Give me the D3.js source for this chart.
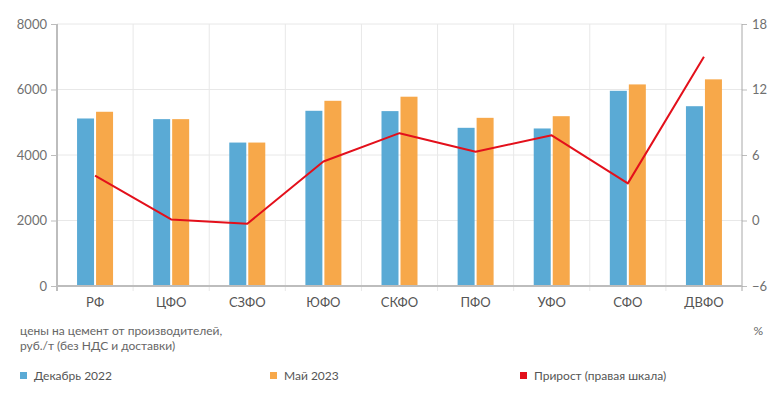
<!DOCTYPE html>
<html>
<head>
<meta charset="utf-8">
<script src="https://cdn.jsdelivr.net/npm/d3@7"></script>
<style>
  body { margin: 0; background: #fff; }
  text { font-family: Lato, "Open Sans", sans-serif; }
</style>
</head>
<body>
<div id="chart"></div>
<script>
const categories = ['РФ', 'ЦФО', 'СЗФО', 'ЮФО', 'СКФО', 'ПФО', 'УФО', 'СФО', 'ДВФО'];
const dec2022 = [5115, 5095, 4380, 5350, 5340, 4830, 4810, 5960, 5490];
const may2023 = [5320, 5095, 4380, 5655, 5780, 5135, 5185, 6155, 6310];
const growth = [4.1, 0.1, -0.3, 5.4, 8.0, 6.3, 7.8, 3.4, 15.0];
const leftTicks = [0, 2000, 4000, 6000, 8000];
const rightTicks = [-6, 0, 6, 12, 18];

const width = 784;
const height = 398;
const margin = { top: 24, right: 42, bottom: 112, left: 57 };

const svg = d3.select('#chart')
  .append('svg')
  .attr('width', width)
  .attr('height', height);

const x = d3.scaleBand()
  .domain(categories)
  .range([margin.left, width - margin.right]);

const yL = d3.scaleLinear()
  .domain([0, 8000])
  .range([height - margin.bottom, margin.top]);

const yR = d3.scaleLinear()
  .domain([-6, 18])
  .range([height - margin.bottom, margin.top]);

const y0 = height - margin.bottom;

// grid
svg.append('g')
  .selectAll('line')
  .data(leftTicks.slice(1))
  .enter()
  .append('line')
  .attr('x1', margin.left)
  .attr('x2', width - margin.right)
  .attr('y1', d => yL(d))
  .attr('y2', d => yL(d))
  .attr('stroke', '#e8e8e8')
  .attr('stroke-width', 1);

svg.append('g')
  .selectAll('line')
  .data(categories.slice(1))
  .enter()
  .append('line')
  .attr('x1', d => x(d))
  .attr('x2', d => x(d))
  .attr('y1', margin.top)
  .attr('y2', y0 + 5)
  .attr('stroke', '#e8e8e8')
  .attr('stroke-width', 1);

// bars
const barW = 17;
svg.append('g')
  .selectAll('rect')
  .data(categories)
  .enter()
  .append('rect')
  .attr('x', d => x(d) + x.bandwidth() / 2 - 1 - barW)
  .attr('y', (d, i) => yL(dec2022[i]))
  .attr('width', barW)
  .attr('height', (d, i) => y0 - yL(dec2022[i]))
  .attr('fill', '#5aaad5');

svg.append('g')
  .selectAll('rect')
  .data(categories)
  .enter()
  .append('rect')
  .attr('x', d => x(d) + x.bandwidth() / 2 + 1)
  .attr('y', (d, i) => yL(may2023[i]))
  .attr('width', barW)
  .attr('height', (d, i) => y0 - yL(may2023[i]))
  .attr('fill', '#f7a84a');

// axes
const axisColor = '#bdbdbd';

const left = svg.append('g')
  .attr('transform', `translate(${margin.left},0)`)
  .call(d3.axisLeft(yL).tickValues(leftTicks).tickSize(6).tickPadding(4).tickFormat(d3.format('d')));
left.select('.domain').remove();
left.append('line')
  .attr('x1', 0).attr('x2', 0)
  .attr('y1', margin.top).attr('y2', y0 + 5)
  .attr('stroke', axisColor).attr('stroke-width', 2);

const right = svg.append('g')
  .attr('transform', `translate(${width - margin.right},0)`)
  .call(d3.axisRight(yR).tickValues(rightTicks).tickSize(5).tickPadding(5).tickFormat(d3.format('d')));
right.select('.domain').remove();
right.append('line')
  .attr('x1', 0).attr('x2', 0)
  .attr('y1', margin.top).attr('y2', y0 + 5)
  .attr('stroke', '#a8a8a8').attr('stroke-width', 1);

[left, right].forEach(g => {
  g.selectAll('.tick line').attr('stroke', axisColor);
  g.selectAll('.tick text')
    .attr('fill', '#707070')
    .attr('font-size', '13px')
    .attr('font-family', 'Lato, sans-serif');
});

const bottom = svg.append('g')
  .attr('transform', `translate(0,${y0})`)
  .call(d3.axisBottom(x).tickSize(0).tickPadding(12));
bottom.select('.domain').remove();
bottom.selectAll('.tick text')
  .attr('fill', '#555')
  .attr('font-size', '13px')
  .attr('font-family', 'Lato, sans-serif');

svg.append('line')
  .attr('x1', margin.left)
  .attr('x2', width - margin.right)
  .attr('y1', y0)
  .attr('y2', y0)
  .attr('stroke', axisColor)
  .attr('stroke-width', 2);

// growth line
const line = d3.line()
  .x((d, i) => x(categories[i]) + x.bandwidth() / 2)
  .y(d => yR(d));

svg.append('path')
  .datum(growth)
  .attr('fill', 'none')
  .attr('stroke', '#e3101b')
  .attr('stroke-width', 2)
  .attr('stroke-linejoin', 'round')
  .attr('d', line);

// units
svg.append('text')
  .attr('x', 20)
  .attr('y', 335)
  .attr('font-size', '12px')
  .attr('fill', '#666')
  .text('цены на цемент от производителей,');

svg.append('text')
  .attr('x', 20)
  .attr('y', 350)
  .attr('font-size', '12px')
  .attr('fill', '#666')
  .text('руб./т (без НДС и доставки)');

svg.append('text')
  .attr('x', 763)
  .attr('y', 335)
  .attr('text-anchor', 'end')
  .attr('font-size', '12px')
  .attr('fill', '#666')
  .text('%');

// legend
const legendItems = [
  { label: 'Декабрь 2022', color: '#5aaad5', x: 20 },
  { label: 'Май 2023', color: '#f7a84a', x: 270 },
  { label: 'Прирост (правая шкала)', color: '#e3101b', x: 520 }
];

const legend = svg.append('g');
legend.selectAll('rect')
  .data(legendItems)
  .enter()
  .append('rect')
  .attr('x', d => d.x)
  .attr('y', 372)
  .attr('width', 7)
  .attr('height', 7)
  .attr('fill', d => d.color);

legend.selectAll('text')
  .data(legendItems)
  .enter()
  .append('text')
  .attr('x', d => d.x + 14)
  .attr('y', 380)
  .attr('font-size', '12px')
  .attr('fill', '#555')
  .text(d => d.label);
</script>
</body>
</html>
